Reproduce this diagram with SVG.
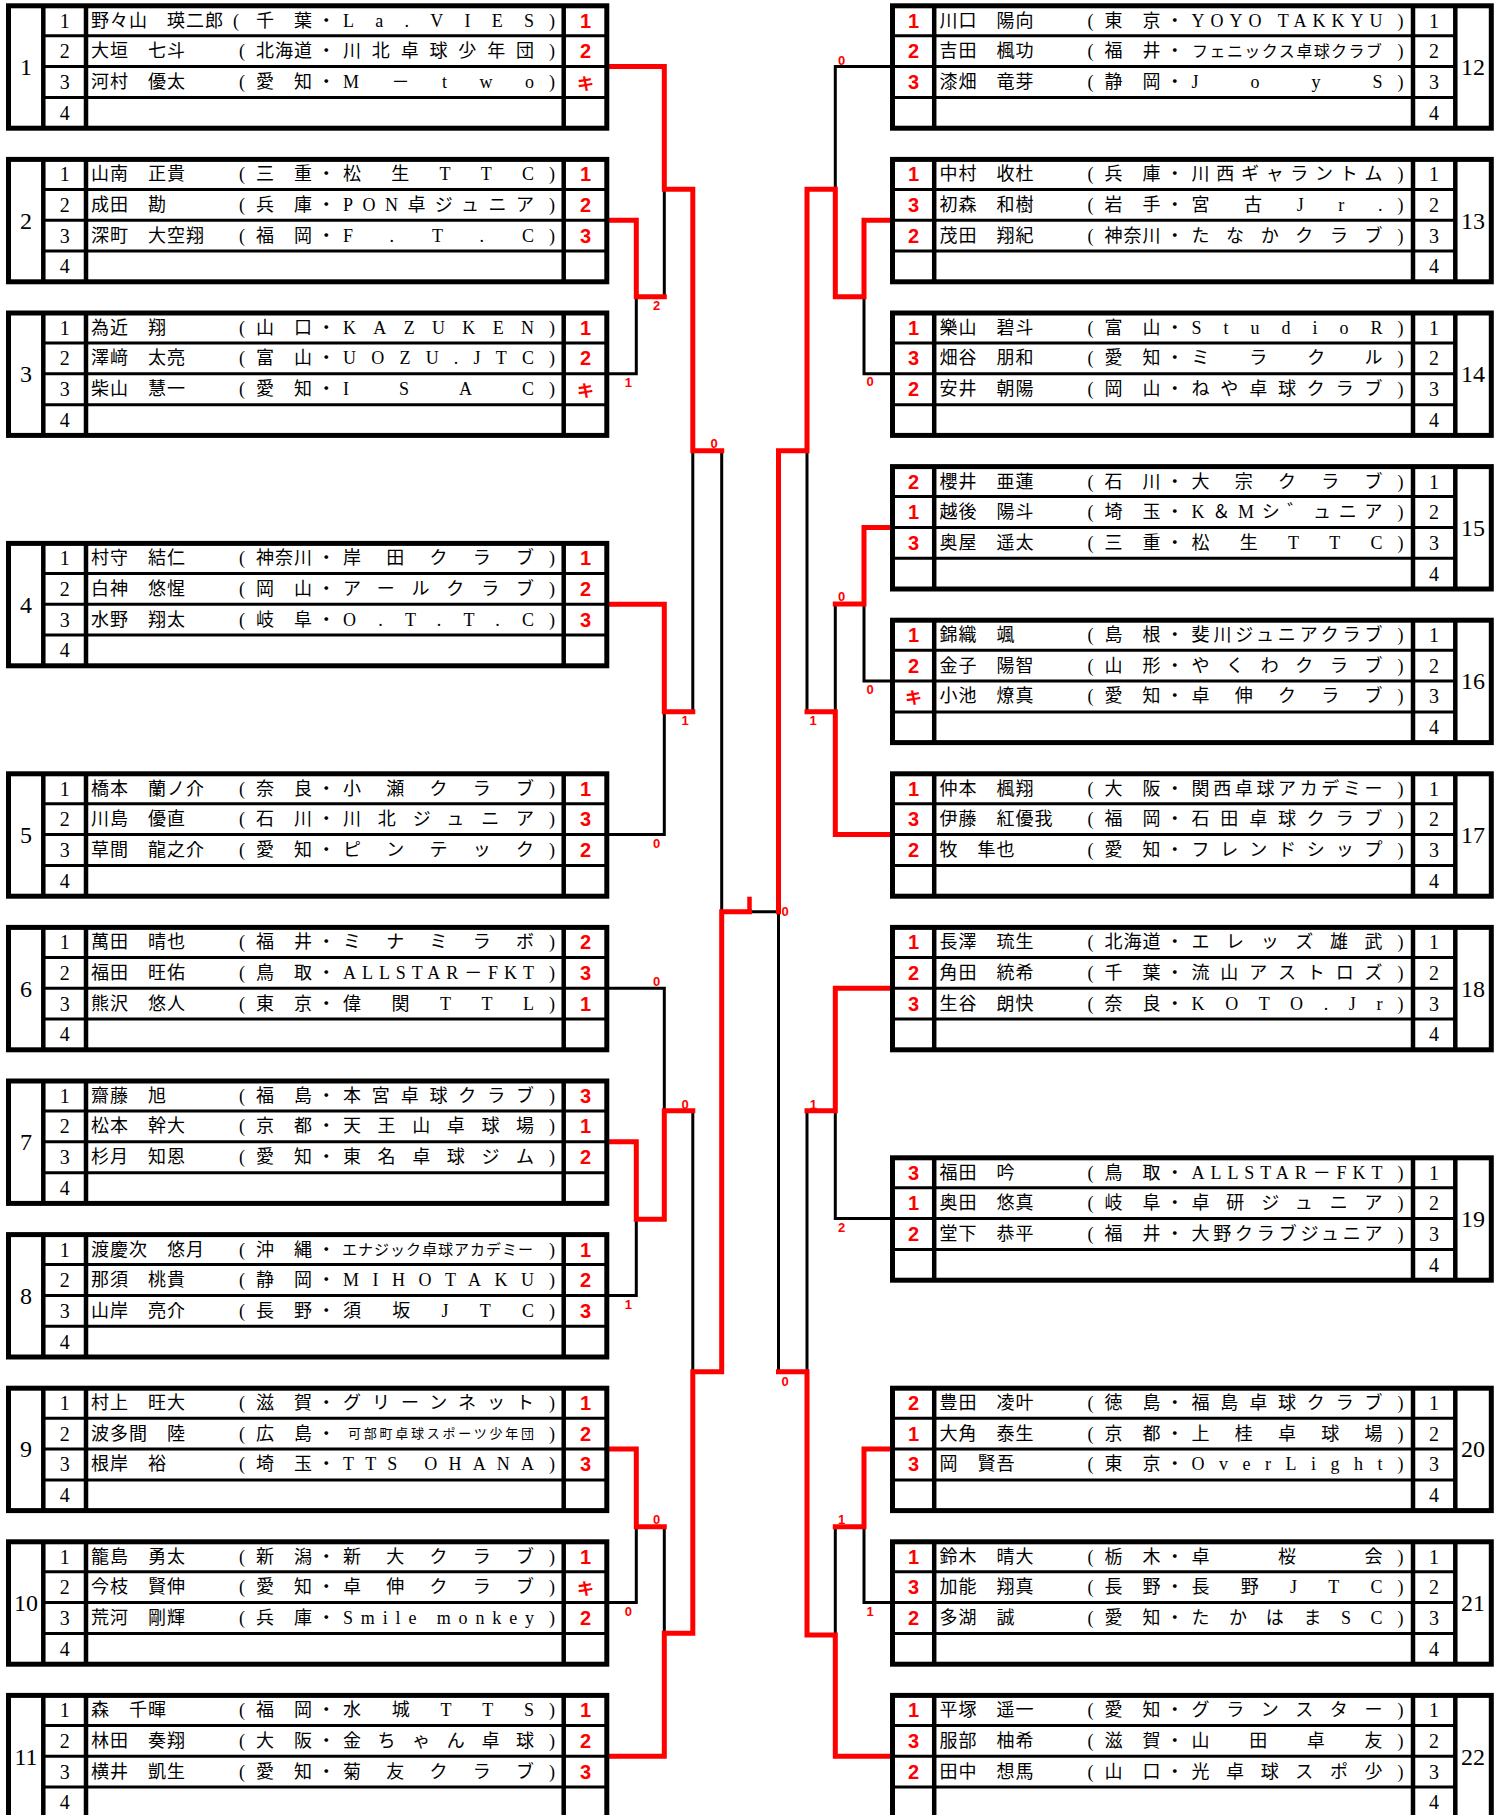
<svg xmlns="http://www.w3.org/2000/svg" width="1501" height="1815" viewBox="0 0 1501 1815">
<style>
.t{font-family:"Liberation Serif","Noto Sans CJK JP",serif;font-size:18px;dominant-baseline:central;fill:#000}
.nm{letter-spacing:1px}
.c15{font-size:15px}
.c13{font-size:13px}
.c16{font-size:16px}
.r{font-family:"Liberation Sans","Noto Sans CJK JP",sans-serif;font-weight:bold;font-size:20px;fill:#f00;text-anchor:middle;dominant-baseline:central}
.k{font-family:"Noto Sans CJK JP",sans-serif;font-size:17px}
.rn{font-family:"Liberation Serif",serif;font-size:20px;text-anchor:middle;dominant-baseline:central;fill:#000}
.gn{font-size:24px}
.lb{font-family:"Liberation Sans",sans-serif;font-weight:bold;font-size:13px;fill:#f00;text-anchor:middle;dominant-baseline:central}
.ob{fill:none;stroke:#000;stroke-width:5}
.iv{fill:none;stroke:#000;stroke-width:4.5}
.ih{fill:none;stroke:#000;stroke-width:3}
.rd{fill:none;stroke:#f00;stroke-width:5;stroke-linecap:square}
.bk{fill:none;stroke:#000;stroke-width:3;stroke-linecap:square}
</style>
<defs>
<g id="bL">
<rect class="ob" x="8.5" y="2.5" width="598.3" height="122.4"/>
<path class="iv" d="M43.3,2.5V124.9M86,2.5V124.9M563.7,2.5V124.9"/>
<path class="ih" d="M43.3,32.5H606.8M43.3,63.3H606.8M43.3,94.2H606.8"/>
</g>
<g id="bR">
<rect class="ob" x="892.5" y="2.5" width="598.8" height="122.4"/>
<path class="iv" d="M934.2,2.5V124.9M1413,2.5V124.9M1455.3,2.5V124.9"/>
<path class="ih" d="M892.5,32.5H1455.3M892.5,63.3H1455.3M892.5,94.2H1455.3"/>
</g>
</defs>
<rect x="0" y="0" width="1501" height="1815" fill="#fff"/>

<g id="connectors">
<path class="bk" d="M664.3,296.7V189.3M609,373.8H636.3V296.7M609,834.6H664.3V711.7M692.8,711.7V450.8M721.7,450.8V911.7M609,988.2H664.3V1110.7M609,1295.4H636.3V1219.3M692.8,1110.7V1371.7M609,1602.6H636.3V1526.7M664.3,1526.7V1633.3M751.7,911.7H778.5"/>
<path class="bk" d="M890,66.6H835.3V189.3M890,373.8H864V296.7M890,681H864V604M835.3,604V711.7M807,711.7V450.8M890,1218.6H835.3V1110.7M807,1110.7V1371.7M890,1602.6H864V1526.7M835.3,1526.7V1635M778.5,911.7V1371.7"/>
<path class="rd" d="M609,66.6H664.3V189.3H692.8V450.8H721.7"/>
<path class="rd" d="M609,220.2H636.3V296.7H664.3"/>
<path class="rd" d="M609,604.2H664.3V711.7H692.8"/>
<path class="rd" d="M609,1141.8H636.3V1219.3H664.3V1110.7H692.8"/>
<path class="rd" d="M609,1449H636.3V1526.7H664.3"/>
<path class="rd" d="M609,1756.2H664.3V1633.3H692.8V1371.7H721.7V911.7H749.5"/>
<path d="M749.5,896.7V913.5" stroke="#f00" stroke-width="4.5" fill="none"/>
<path class="rd" d="M890,220.2H864V296.7H835.3V189.3H807V450.8H778.5V911.7"/>
<path class="rd" d="M890,527.4H864V604H835.3"/>
<path class="rd" d="M890,834.6H835.3V711.7H807"/>
<path class="rd" d="M890,988.2H835.3V1110.7H807"/>
<path class="rd" d="M890,1449H864V1526.7H835.3"/>
<path class="rd" d="M890,1756.2H835.3V1635H807V1371.7H778.5"/>
<g id="scores">
<text class="lb" x="656.7" y="305">2</text>
<text class="lb" x="628.3" y="382.7">1</text>
<text class="lb" x="714" y="443.3">0</text>
<text class="lb" x="685" y="720">1</text>
<text class="lb" x="656.7" y="843.3">0</text>
<text class="lb" x="656.7" y="981.7">0</text>
<text class="lb" x="685" y="1104">0</text>
<text class="lb" x="628.3" y="1304">1</text>
<text class="lb" x="656.7" y="1519.3">0</text>
<text class="lb" x="628.3" y="1611.7">0</text>
<text class="lb" x="841.7" y="60">0</text>
<text class="lb" x="870" y="381.7">0</text>
<text class="lb" x="841.7" y="596.7">0</text>
<text class="lb" x="870" y="689.3">0</text>
<text class="lb" x="813" y="720">1</text>
<text class="lb" x="785" y="911">0</text>
<text class="lb" x="813.3" y="1104">1</text>
<text class="lb" x="841.7" y="1227.3">2</text>
<text class="lb" x="785" y="1381">0</text>
<text class="lb" x="841.7" y="1519.3">1</text>
<text class="lb" x="870" y="1611.7">1</text>
</g>
</g>

<g id="g1" transform="translate(0,3.3)">
<use href="#bL"/>
<text class="rn gn" x="26" y="63.7">1</text>
<text class="rn" x="64.7" y="17.5">1</text><text class="rn" x="64.7" y="47.9">2</text><text class="rn" x="64.7" y="78.75">3</text><text class="rn" x="64.7" y="109.55">4</text>
<text class="t" y="17.5"><tspan class="nm" x="91">野々山　瑛二郎</tspan><tspan x="233">(</tspan><tspan x="256 294">千葉</tspan><tspan x="317.3">・</tspan><tspan x="549">)</tspan></text>
<text class="t" x="343" y="17.5" textLength="191" lengthAdjust="spacing">La.VIES</text>
<text class="r" x="585.5" y="17.5">1</text>
<text class="t" y="47.9"><tspan class="nm" x="91">大垣　七斗</tspan><tspan x="239">(</tspan><tspan x="256 275 294">北海道</tspan><tspan x="317.3">・</tspan><tspan x="549">)</tspan></text>
<text class="t" x="343" y="47.9" textLength="191" lengthAdjust="spacing">川北卓球少年団</text>
<text class="r" x="585.5" y="47.9">2</text>
<text class="t" y="78.75"><tspan class="nm" x="91">河村　優太</tspan><tspan x="239">(</tspan><tspan x="256 294">愛知</tspan><tspan x="317.3">・</tspan><tspan x="549">)</tspan></text>
<text class="t" x="343" y="78.75" textLength="191" lengthAdjust="spacing">M－two</text>
<text class="r k" x="585.5" y="78.75">キ</text>
</g>

<g id="g2" transform="translate(0,156.9)">
<use href="#bL"/>
<text class="rn gn" x="26" y="63.7">2</text>
<text class="rn" x="64.7" y="17.5">1</text><text class="rn" x="64.7" y="47.9">2</text><text class="rn" x="64.7" y="78.75">3</text><text class="rn" x="64.7" y="109.55">4</text>
<text class="t" y="17.5"><tspan class="nm" x="91">山南　正貴</tspan><tspan x="239">(</tspan><tspan x="256 294">三重</tspan><tspan x="317.3">・</tspan><tspan x="549">)</tspan></text>
<text class="t" x="343" y="17.5" textLength="191" lengthAdjust="spacing">松生TTC</text>
<text class="r" x="585.5" y="17.5">1</text>
<text class="t" y="47.9"><tspan class="nm" x="91">成田　勘</tspan><tspan x="239">(</tspan><tspan x="256 294">兵庫</tspan><tspan x="317.3">・</tspan><tspan x="549">)</tspan></text>
<text class="t" x="343" y="47.9" textLength="191" lengthAdjust="spacing">PON卓ジュニア</text>
<text class="r" x="585.5" y="47.9">2</text>
<text class="t" y="78.75"><tspan class="nm" x="91">深町　大空翔</tspan><tspan x="239">(</tspan><tspan x="256 294">福岡</tspan><tspan x="317.3">・</tspan><tspan x="549">)</tspan></text>
<text class="t" x="343" y="78.75" textLength="191" lengthAdjust="spacing">F.T.C</text>
<text class="r" x="585.5" y="78.75">3</text>
</g>

<g id="g3" transform="translate(0,310.5)">
<use href="#bL"/>
<text class="rn gn" x="26" y="63.7">3</text>
<text class="rn" x="64.7" y="17.5">1</text><text class="rn" x="64.7" y="47.9">2</text><text class="rn" x="64.7" y="78.75">3</text><text class="rn" x="64.7" y="109.55">4</text>
<text class="t" y="17.5"><tspan class="nm" x="91">為近　翔</tspan><tspan x="239">(</tspan><tspan x="256 294">山口</tspan><tspan x="317.3">・</tspan><tspan x="549">)</tspan></text>
<text class="t" x="343" y="17.5" textLength="191" lengthAdjust="spacing">KAZUKEN</text>
<text class="r" x="585.5" y="17.5">1</text>
<text class="t" y="47.9"><tspan class="nm" x="91">澤﨑　太亮</tspan><tspan x="239">(</tspan><tspan x="256 294">富山</tspan><tspan x="317.3">・</tspan><tspan x="549">)</tspan></text>
<text class="t" x="343" y="47.9" textLength="191" lengthAdjust="spacing">UOZU.JTC</text>
<text class="r" x="585.5" y="47.9">2</text>
<text class="t" y="78.75"><tspan class="nm" x="91">柴山　慧一</tspan><tspan x="239">(</tspan><tspan x="256 294">愛知</tspan><tspan x="317.3">・</tspan><tspan x="549">)</tspan></text>
<text class="t" x="343" y="78.75" textLength="191" lengthAdjust="spacing">ISAC</text>
<text class="r k" x="585.5" y="78.75">キ</text>
</g>

<g id="g4" transform="translate(0,540.9)">
<use href="#bL"/>
<text class="rn gn" x="26" y="63.7">4</text>
<text class="rn" x="64.7" y="17.5">1</text><text class="rn" x="64.7" y="47.9">2</text><text class="rn" x="64.7" y="78.75">3</text><text class="rn" x="64.7" y="109.55">4</text>
<text class="t" y="17.5"><tspan class="nm" x="91">村守　結仁</tspan><tspan x="239">(</tspan><tspan x="256 275 294">神奈川</tspan><tspan x="317.3">・</tspan><tspan x="549">)</tspan></text>
<text class="t" x="343" y="17.5" textLength="191" lengthAdjust="spacing">岸田クラブ</text>
<text class="r" x="585.5" y="17.5">1</text>
<text class="t" y="47.9"><tspan class="nm" x="91">白神　悠惺</tspan><tspan x="239">(</tspan><tspan x="256 294">岡山</tspan><tspan x="317.3">・</tspan><tspan x="549">)</tspan></text>
<text class="t" x="343" y="47.9" textLength="191" lengthAdjust="spacing">アールクラブ</text>
<text class="r" x="585.5" y="47.9">2</text>
<text class="t" y="78.75"><tspan class="nm" x="91">水野　翔太</tspan><tspan x="239">(</tspan><tspan x="256 294">岐阜</tspan><tspan x="317.3">・</tspan><tspan x="549">)</tspan></text>
<text class="t" x="343" y="78.75" textLength="191" lengthAdjust="spacing">O.T.T.C</text>
<text class="r" x="585.5" y="78.75">3</text>
</g>

<g id="g5" transform="translate(0,771.3)">
<use href="#bL"/>
<text class="rn gn" x="26" y="63.7">5</text>
<text class="rn" x="64.7" y="17.5">1</text><text class="rn" x="64.7" y="47.9">2</text><text class="rn" x="64.7" y="78.75">3</text><text class="rn" x="64.7" y="109.55">4</text>
<text class="t" y="17.5"><tspan class="nm" x="91">橋本　蘭ノ介</tspan><tspan x="239">(</tspan><tspan x="256 294">奈良</tspan><tspan x="317.3">・</tspan><tspan x="549">)</tspan></text>
<text class="t" x="343" y="17.5" textLength="191" lengthAdjust="spacing">小瀬クラブ</text>
<text class="r" x="585.5" y="17.5">1</text>
<text class="t" y="47.9"><tspan class="nm" x="91">川島　優直</tspan><tspan x="239">(</tspan><tspan x="256 294">石川</tspan><tspan x="317.3">・</tspan><tspan x="549">)</tspan></text>
<text class="t" x="343" y="47.9" textLength="191" lengthAdjust="spacing">川北ジュニア</text>
<text class="r" x="585.5" y="47.9">3</text>
<text class="t" y="78.75"><tspan class="nm" x="91">草間　龍之介</tspan><tspan x="239">(</tspan><tspan x="256 294">愛知</tspan><tspan x="317.3">・</tspan><tspan x="549">)</tspan></text>
<text class="t" x="343" y="78.75" textLength="191" lengthAdjust="spacing">ピンテック</text>
<text class="r" x="585.5" y="78.75">2</text>
</g>

<g id="g6" transform="translate(0,924.9)">
<use href="#bL"/>
<text class="rn gn" x="26" y="63.7">6</text>
<text class="rn" x="64.7" y="17.5">1</text><text class="rn" x="64.7" y="47.9">2</text><text class="rn" x="64.7" y="78.75">3</text><text class="rn" x="64.7" y="109.55">4</text>
<text class="t" y="17.5"><tspan class="nm" x="91">萬田　晴也</tspan><tspan x="239">(</tspan><tspan x="256 294">福井</tspan><tspan x="317.3">・</tspan><tspan x="549">)</tspan></text>
<text class="t" x="343" y="17.5" textLength="191" lengthAdjust="spacing">ミナミラボ</text>
<text class="r" x="585.5" y="17.5">2</text>
<text class="t" y="47.9"><tspan class="nm" x="91">福田　旺佑</tspan><tspan x="239">(</tspan><tspan x="256 294">鳥取</tspan><tspan x="317.3">・</tspan><tspan x="549">)</tspan></text>
<text class="t" x="343" y="47.9" textLength="191" lengthAdjust="spacing">ALLSTAR－FKT</text>
<text class="r" x="585.5" y="47.9">3</text>
<text class="t" y="78.75"><tspan class="nm" x="91">熊沢　悠人</tspan><tspan x="239">(</tspan><tspan x="256 294">東京</tspan><tspan x="317.3">・</tspan><tspan x="549">)</tspan></text>
<text class="t" x="343" y="78.75" textLength="191" lengthAdjust="spacing">偉関TTL</text>
<text class="r" x="585.5" y="78.75">1</text>
</g>

<g id="g7" transform="translate(0,1078.5)">
<use href="#bL"/>
<text class="rn gn" x="26" y="63.7">7</text>
<text class="rn" x="64.7" y="17.5">1</text><text class="rn" x="64.7" y="47.9">2</text><text class="rn" x="64.7" y="78.75">3</text><text class="rn" x="64.7" y="109.55">4</text>
<text class="t" y="17.5"><tspan class="nm" x="91">齋藤　旭</tspan><tspan x="239">(</tspan><tspan x="256 294">福島</tspan><tspan x="317.3">・</tspan><tspan x="549">)</tspan></text>
<text class="t" x="343" y="17.5" textLength="191" lengthAdjust="spacing">本宮卓球クラブ</text>
<text class="r" x="585.5" y="17.5">3</text>
<text class="t" y="47.9"><tspan class="nm" x="91">松本　幹大</tspan><tspan x="239">(</tspan><tspan x="256 294">京都</tspan><tspan x="317.3">・</tspan><tspan x="549">)</tspan></text>
<text class="t" x="343" y="47.9" textLength="191" lengthAdjust="spacing">天王山卓球場</text>
<text class="r" x="585.5" y="47.9">1</text>
<text class="t" y="78.75"><tspan class="nm" x="91">杉月　知恩</tspan><tspan x="239">(</tspan><tspan x="256 294">愛知</tspan><tspan x="317.3">・</tspan><tspan x="549">)</tspan></text>
<text class="t" x="343" y="78.75" textLength="191" lengthAdjust="spacing">東名卓球ジム</text>
<text class="r" x="585.5" y="78.75">2</text>
</g>

<g id="g8" transform="translate(0,1232.1)">
<use href="#bL"/>
<text class="rn gn" x="26" y="63.7">8</text>
<text class="rn" x="64.7" y="17.5">1</text><text class="rn" x="64.7" y="47.9">2</text><text class="rn" x="64.7" y="78.75">3</text><text class="rn" x="64.7" y="109.55">4</text>
<text class="t" y="17.5"><tspan class="nm" x="91">渡慶次　悠月</tspan><tspan x="239">(</tspan><tspan x="256 294">沖縄</tspan><tspan x="317.3">・</tspan><tspan x="549">)</tspan></text>
<text class="t c15" x="342" y="17.5" textLength="191" lengthAdjust="spacing">エナジック卓球アカデミー</text>
<text class="r" x="585.5" y="17.5">1</text>
<text class="t" y="47.9"><tspan class="nm" x="91">那須　桃貴</tspan><tspan x="239">(</tspan><tspan x="256 294">静岡</tspan><tspan x="317.3">・</tspan><tspan x="549">)</tspan></text>
<text class="t" x="343" y="47.9" textLength="191" lengthAdjust="spacing">MIHOTAKU</text>
<text class="r" x="585.5" y="47.9">2</text>
<text class="t" y="78.75"><tspan class="nm" x="91">山岸　亮介</tspan><tspan x="239">(</tspan><tspan x="256 294">長野</tspan><tspan x="317.3">・</tspan><tspan x="549">)</tspan></text>
<text class="t" x="343" y="78.75" textLength="191" lengthAdjust="spacing">須坂JTC</text>
<text class="r" x="585.5" y="78.75">3</text>
</g>

<g id="g9" transform="translate(0,1385.7)">
<use href="#bL"/>
<text class="rn gn" x="26" y="63.7">9</text>
<text class="rn" x="64.7" y="17.5">1</text><text class="rn" x="64.7" y="47.9">2</text><text class="rn" x="64.7" y="78.75">3</text><text class="rn" x="64.7" y="109.55">4</text>
<text class="t" y="17.5"><tspan class="nm" x="91">村上　旺大</tspan><tspan x="239">(</tspan><tspan x="256 294">滋賀</tspan><tspan x="317.3">・</tspan><tspan x="549">)</tspan></text>
<text class="t" x="343" y="17.5" textLength="191" lengthAdjust="spacing">グリーンネット</text>
<text class="r" x="585.5" y="17.5">1</text>
<text class="t" y="47.9"><tspan class="nm" x="91">波多間　陸</tspan><tspan x="239">(</tspan><tspan x="256 294">広島</tspan><tspan x="317.3">・</tspan><tspan x="549">)</tspan></text>
<text class="t c13" x="348" y="47.9" textLength="186" lengthAdjust="spacing">可部町卓球スポーツ少年団</text>
<text class="r" x="585.5" y="47.9">2</text>
<text class="t" y="78.75"><tspan class="nm" x="91">根岸　裕</tspan><tspan x="239">(</tspan><tspan x="256 294">埼玉</tspan><tspan x="317.3">・</tspan><tspan x="549">)</tspan></text>
<text class="t" x="343" y="78.75" textLength="191" lengthAdjust="spacing">TTS OHANA</text>
<text class="r" x="585.5" y="78.75">3</text>
</g>

<g id="g10" transform="translate(0,1539.3)">
<use href="#bL"/>
<text class="rn gn" x="26" y="63.7">10</text>
<text class="rn" x="64.7" y="17.5">1</text><text class="rn" x="64.7" y="47.9">2</text><text class="rn" x="64.7" y="78.75">3</text><text class="rn" x="64.7" y="109.55">4</text>
<text class="t" y="17.5"><tspan class="nm" x="91">籠島　勇太</tspan><tspan x="239">(</tspan><tspan x="256 294">新潟</tspan><tspan x="317.3">・</tspan><tspan x="549">)</tspan></text>
<text class="t" x="343" y="17.5" textLength="191" lengthAdjust="spacing">新大クラブ</text>
<text class="r" x="585.5" y="17.5">1</text>
<text class="t" y="47.9"><tspan class="nm" x="91">今枝　賢伸</tspan><tspan x="239">(</tspan><tspan x="256 294">愛知</tspan><tspan x="317.3">・</tspan><tspan x="549">)</tspan></text>
<text class="t" x="343" y="47.9" textLength="191" lengthAdjust="spacing">卓伸クラブ</text>
<text class="r k" x="585.5" y="47.9">キ</text>
<text class="t" y="78.75"><tspan class="nm" x="91">荒河　剛輝</tspan><tspan x="239">(</tspan><tspan x="256 294">兵庫</tspan><tspan x="317.3">・</tspan><tspan x="549">)</tspan></text>
<text class="t" x="343" y="78.75" textLength="191" lengthAdjust="spacing">Smile monkey</text>
<text class="r" x="585.5" y="78.75">2</text>
</g>

<g id="g11" transform="translate(0,1692.9)">
<use href="#bL"/>
<text class="rn gn" x="26" y="63.7">11</text>
<text class="rn" x="64.7" y="17.5">1</text><text class="rn" x="64.7" y="47.9">2</text><text class="rn" x="64.7" y="78.75">3</text><text class="rn" x="64.7" y="109.55">4</text>
<text class="t" y="17.5"><tspan class="nm" x="91">森　千暉</tspan><tspan x="239">(</tspan><tspan x="256 294">福岡</tspan><tspan x="317.3">・</tspan><tspan x="549">)</tspan></text>
<text class="t" x="343" y="17.5" textLength="191" lengthAdjust="spacing">水城TTS</text>
<text class="r" x="585.5" y="17.5">1</text>
<text class="t" y="47.9"><tspan class="nm" x="91">林田　奏翔</tspan><tspan x="239">(</tspan><tspan x="256 294">大阪</tspan><tspan x="317.3">・</tspan><tspan x="549">)</tspan></text>
<text class="t" x="343" y="47.9" textLength="191" lengthAdjust="spacing">金ちゃん卓球</text>
<text class="r" x="585.5" y="47.9">2</text>
<text class="t" y="78.75"><tspan class="nm" x="91">横井　凱生</tspan><tspan x="239">(</tspan><tspan x="256 294">愛知</tspan><tspan x="317.3">・</tspan><tspan x="549">)</tspan></text>
<text class="t" x="343" y="78.75" textLength="191" lengthAdjust="spacing">菊友クラブ</text>
<text class="r" x="585.5" y="78.75">3</text>
</g>

<g id="g12" transform="translate(0,3.3)">
<use href="#bR"/>
<text class="rn gn" x="1473" y="63.7">12</text>
<text class="rn" x="1434" y="17.5">1</text><text class="rn" x="1434" y="47.9">2</text><text class="rn" x="1434" y="78.75">3</text><text class="rn" x="1434" y="109.55">4</text>
<text class="r" x="913.5" y="17.5">1</text>
<text class="t" y="17.5"><tspan class="nm" x="939.5">川口　陽向</tspan><tspan x="1087.5">(</tspan><tspan x="1104.5 1142.5">東京</tspan><tspan x="1165.8">・</tspan><tspan x="1397.5">)</tspan></text>
<text class="t" x="1191.5" y="17.5" textLength="191" lengthAdjust="spacing">YOYO TAKKYU</text>
<text class="r" x="913.5" y="47.9">2</text>
<text class="t" y="47.9"><tspan class="nm" x="939.5">吉田　楓功</tspan><tspan x="1087.5">(</tspan><tspan x="1104.5 1142.5">福井</tspan><tspan x="1165.8">・</tspan><tspan x="1397.5">)</tspan></text>
<text class="t c16" x="1192" y="47.9" textLength="190" lengthAdjust="spacing">フェニックス卓球クラブ</text>
<text class="r" x="913.5" y="78.75">3</text>
<text class="t" y="78.75"><tspan class="nm" x="939.5">漆畑　竜芽</tspan><tspan x="1087.5">(</tspan><tspan x="1104.5 1142.5">静岡</tspan><tspan x="1165.8">・</tspan><tspan x="1397.5">)</tspan></text>
<text class="t" x="1191.5" y="78.75" textLength="191" lengthAdjust="spacing">JoyS</text>
</g>

<g id="g13" transform="translate(0,156.9)">
<use href="#bR"/>
<text class="rn gn" x="1473" y="63.7">13</text>
<text class="rn" x="1434" y="17.5">1</text><text class="rn" x="1434" y="47.9">2</text><text class="rn" x="1434" y="78.75">3</text><text class="rn" x="1434" y="109.55">4</text>
<text class="r" x="913.5" y="17.5">1</text>
<text class="t" y="17.5"><tspan class="nm" x="939.5">中村　收杜</tspan><tspan x="1087.5">(</tspan><tspan x="1104.5 1142.5">兵庫</tspan><tspan x="1165.8">・</tspan><tspan x="1397.5">)</tspan></text>
<text class="t" x="1191.5" y="17.5" textLength="191" lengthAdjust="spacing">川西ギャラントム</text>
<text class="r" x="913.5" y="47.9">3</text>
<text class="t" y="47.9"><tspan class="nm" x="939.5">初森　和樹</tspan><tspan x="1087.5">(</tspan><tspan x="1104.5 1142.5">岩手</tspan><tspan x="1165.8">・</tspan><tspan x="1397.5">)</tspan></text>
<text class="t" x="1191.5" y="47.9" textLength="191" lengthAdjust="spacing">宮古Jr.</text>
<text class="r" x="913.5" y="78.75">2</text>
<text class="t" y="78.75"><tspan class="nm" x="939.5">茂田　翔紀</tspan><tspan x="1087.5">(</tspan><tspan x="1104.5 1123.5 1142.5">神奈川</tspan><tspan x="1165.8">・</tspan><tspan x="1397.5">)</tspan></text>
<text class="t" x="1191.5" y="78.75" textLength="191" lengthAdjust="spacing">たなかクラブ</text>
</g>

<g id="g14" transform="translate(0,310.5)">
<use href="#bR"/>
<text class="rn gn" x="1473" y="63.7">14</text>
<text class="rn" x="1434" y="17.5">1</text><text class="rn" x="1434" y="47.9">2</text><text class="rn" x="1434" y="78.75">3</text><text class="rn" x="1434" y="109.55">4</text>
<text class="r" x="913.5" y="17.5">1</text>
<text class="t" y="17.5"><tspan class="nm" x="939.5">樂山　碧斗</tspan><tspan x="1087.5">(</tspan><tspan x="1104.5 1142.5">富山</tspan><tspan x="1165.8">・</tspan><tspan x="1397.5">)</tspan></text>
<text class="t" x="1191.5" y="17.5" textLength="191" lengthAdjust="spacing">StudioR</text>
<text class="r" x="913.5" y="47.9">3</text>
<text class="t" y="47.9"><tspan class="nm" x="939.5">畑谷　朋和</tspan><tspan x="1087.5">(</tspan><tspan x="1104.5 1142.5">愛知</tspan><tspan x="1165.8">・</tspan><tspan x="1397.5">)</tspan></text>
<text class="t" x="1191.5" y="47.9" textLength="191" lengthAdjust="spacing">ミラクル</text>
<text class="r" x="913.5" y="78.75">2</text>
<text class="t" y="78.75"><tspan class="nm" x="939.5">安井　朝陽</tspan><tspan x="1087.5">(</tspan><tspan x="1104.5 1142.5">岡山</tspan><tspan x="1165.8">・</tspan><tspan x="1397.5">)</tspan></text>
<text class="t" x="1191.5" y="78.75" textLength="191" lengthAdjust="spacing">ねや卓球クラブ</text>
</g>

<g id="g15" transform="translate(0,464.1)">
<use href="#bR"/>
<text class="rn gn" x="1473" y="63.7">15</text>
<text class="rn" x="1434" y="17.5">1</text><text class="rn" x="1434" y="47.9">2</text><text class="rn" x="1434" y="78.75">3</text><text class="rn" x="1434" y="109.55">4</text>
<text class="r" x="913.5" y="17.5">2</text>
<text class="t" y="17.5"><tspan class="nm" x="939.5">櫻井　亜蓮</tspan><tspan x="1087.5">(</tspan><tspan x="1104.5 1142.5">石川</tspan><tspan x="1165.8">・</tspan><tspan x="1397.5">)</tspan></text>
<text class="t" x="1191.5" y="17.5" textLength="191" lengthAdjust="spacing">大宗クラブ</text>
<text class="r" x="913.5" y="47.9">1</text>
<text class="t" y="47.9"><tspan class="nm" x="939.5">越後　陽斗</tspan><tspan x="1087.5">(</tspan><tspan x="1104.5 1142.5">埼玉</tspan><tspan x="1165.8">・</tspan><tspan x="1397.5">)</tspan></text>
<text class="t" x="1191.5" y="47.9" textLength="191" lengthAdjust="spacing">K＆Mシ゛ュニア</text>
<text class="r" x="913.5" y="78.75">3</text>
<text class="t" y="78.75"><tspan class="nm" x="939.5">奥屋　遥太</tspan><tspan x="1087.5">(</tspan><tspan x="1104.5 1142.5">三重</tspan><tspan x="1165.8">・</tspan><tspan x="1397.5">)</tspan></text>
<text class="t" x="1191.5" y="78.75" textLength="191" lengthAdjust="spacing">松生TTC</text>
</g>

<g id="g16" transform="translate(0,617.7)">
<use href="#bR"/>
<text class="rn gn" x="1473" y="63.7">16</text>
<text class="rn" x="1434" y="17.5">1</text><text class="rn" x="1434" y="47.9">2</text><text class="rn" x="1434" y="78.75">3</text><text class="rn" x="1434" y="109.55">4</text>
<text class="r" x="913.5" y="17.5">1</text>
<text class="t" y="17.5"><tspan class="nm" x="939.5">錦織　颯</tspan><tspan x="1087.5">(</tspan><tspan x="1104.5 1142.5">島根</tspan><tspan x="1165.8">・</tspan><tspan x="1397.5">)</tspan></text>
<text class="t" x="1191.5" y="17.5" textLength="191" lengthAdjust="spacing">斐川ジュニアクラブ</text>
<text class="r" x="913.5" y="47.9">2</text>
<text class="t" y="47.9"><tspan class="nm" x="939.5">金子　陽智</tspan><tspan x="1087.5">(</tspan><tspan x="1104.5 1142.5">山形</tspan><tspan x="1165.8">・</tspan><tspan x="1397.5">)</tspan></text>
<text class="t" x="1191.5" y="47.9" textLength="191" lengthAdjust="spacing">やくわクラブ</text>
<text class="r k" x="913.5" y="78.75">キ</text>
<text class="t" y="78.75"><tspan class="nm" x="939.5">小池　燎真</tspan><tspan x="1087.5">(</tspan><tspan x="1104.5 1142.5">愛知</tspan><tspan x="1165.8">・</tspan><tspan x="1397.5">)</tspan></text>
<text class="t" x="1191.5" y="78.75" textLength="191" lengthAdjust="spacing">卓伸クラブ</text>
</g>

<g id="g17" transform="translate(0,771.3)">
<use href="#bR"/>
<text class="rn gn" x="1473" y="63.7">17</text>
<text class="rn" x="1434" y="17.5">1</text><text class="rn" x="1434" y="47.9">2</text><text class="rn" x="1434" y="78.75">3</text><text class="rn" x="1434" y="109.55">4</text>
<text class="r" x="913.5" y="17.5">1</text>
<text class="t" y="17.5"><tspan class="nm" x="939.5">仲本　楓翔</tspan><tspan x="1087.5">(</tspan><tspan x="1104.5 1142.5">大阪</tspan><tspan x="1165.8">・</tspan><tspan x="1397.5">)</tspan></text>
<text class="t" x="1191.5" y="17.5" textLength="191" lengthAdjust="spacing">関西卓球アカデミー</text>
<text class="r" x="913.5" y="47.9">3</text>
<text class="t" y="47.9"><tspan class="nm" x="939.5">伊藤　紅優我</tspan><tspan x="1087.5">(</tspan><tspan x="1104.5 1142.5">福岡</tspan><tspan x="1165.8">・</tspan><tspan x="1397.5">)</tspan></text>
<text class="t" x="1191.5" y="47.9" textLength="191" lengthAdjust="spacing">石田卓球クラブ</text>
<text class="r" x="913.5" y="78.75">2</text>
<text class="t" y="78.75"><tspan class="nm" x="939.5">牧　隼也</tspan><tspan x="1087.5">(</tspan><tspan x="1104.5 1142.5">愛知</tspan><tspan x="1165.8">・</tspan><tspan x="1397.5">)</tspan></text>
<text class="t" x="1191.5" y="78.75" textLength="191" lengthAdjust="spacing">フレンドシップ</text>
</g>

<g id="g18" transform="translate(0,924.9)">
<use href="#bR"/>
<text class="rn gn" x="1473" y="63.7">18</text>
<text class="rn" x="1434" y="17.5">1</text><text class="rn" x="1434" y="47.9">2</text><text class="rn" x="1434" y="78.75">3</text><text class="rn" x="1434" y="109.55">4</text>
<text class="r" x="913.5" y="17.5">1</text>
<text class="t" y="17.5"><tspan class="nm" x="939.5">長澤　琉生</tspan><tspan x="1087.5">(</tspan><tspan x="1104.5 1123.5 1142.5">北海道</tspan><tspan x="1165.8">・</tspan><tspan x="1397.5">)</tspan></text>
<text class="t" x="1191.5" y="17.5" textLength="191" lengthAdjust="spacing">エレッズ雄武</text>
<text class="r" x="913.5" y="47.9">2</text>
<text class="t" y="47.9"><tspan class="nm" x="939.5">角田　統希</tspan><tspan x="1087.5">(</tspan><tspan x="1104.5 1142.5">千葉</tspan><tspan x="1165.8">・</tspan><tspan x="1397.5">)</tspan></text>
<text class="t" x="1191.5" y="47.9" textLength="191" lengthAdjust="spacing">流山アストロズ</text>
<text class="r" x="913.5" y="78.75">3</text>
<text class="t" y="78.75"><tspan class="nm" x="939.5">生谷　朗快</tspan><tspan x="1087.5">(</tspan><tspan x="1104.5 1142.5">奈良</tspan><tspan x="1165.8">・</tspan><tspan x="1397.5">)</tspan></text>
<text class="t" x="1191.5" y="78.75" textLength="191" lengthAdjust="spacing">KOTO.Jr</text>
</g>

<g id="g19" transform="translate(0,1155.3)">
<use href="#bR"/>
<text class="rn gn" x="1473" y="63.7">19</text>
<text class="rn" x="1434" y="17.5">1</text><text class="rn" x="1434" y="47.9">2</text><text class="rn" x="1434" y="78.75">3</text><text class="rn" x="1434" y="109.55">4</text>
<text class="r" x="913.5" y="17.5">3</text>
<text class="t" y="17.5"><tspan class="nm" x="939.5">福田　吟</tspan><tspan x="1087.5">(</tspan><tspan x="1104.5 1142.5">鳥取</tspan><tspan x="1165.8">・</tspan><tspan x="1397.5">)</tspan></text>
<text class="t" x="1191.5" y="17.5" textLength="191" lengthAdjust="spacing">ALLSTAR－FKT</text>
<text class="r" x="913.5" y="47.9">1</text>
<text class="t" y="47.9"><tspan class="nm" x="939.5">奥田　悠真</tspan><tspan x="1087.5">(</tspan><tspan x="1104.5 1142.5">岐阜</tspan><tspan x="1165.8">・</tspan><tspan x="1397.5">)</tspan></text>
<text class="t" x="1191.5" y="47.9" textLength="191" lengthAdjust="spacing">卓研ジュニア</text>
<text class="r" x="913.5" y="78.75">2</text>
<text class="t" y="78.75"><tspan class="nm" x="939.5">堂下　恭平</tspan><tspan x="1087.5">(</tspan><tspan x="1104.5 1142.5">福井</tspan><tspan x="1165.8">・</tspan><tspan x="1397.5">)</tspan></text>
<text class="t" x="1191.5" y="78.75" textLength="191" lengthAdjust="spacing">大野クラブジュニア</text>
</g>

<g id="g20" transform="translate(0,1385.7)">
<use href="#bR"/>
<text class="rn gn" x="1473" y="63.7">20</text>
<text class="rn" x="1434" y="17.5">1</text><text class="rn" x="1434" y="47.9">2</text><text class="rn" x="1434" y="78.75">3</text><text class="rn" x="1434" y="109.55">4</text>
<text class="r" x="913.5" y="17.5">2</text>
<text class="t" y="17.5"><tspan class="nm" x="939.5">豊田　凌叶</tspan><tspan x="1087.5">(</tspan><tspan x="1104.5 1142.5">徳島</tspan><tspan x="1165.8">・</tspan><tspan x="1397.5">)</tspan></text>
<text class="t" x="1191.5" y="17.5" textLength="191" lengthAdjust="spacing">福島卓球クラブ</text>
<text class="r" x="913.5" y="47.9">1</text>
<text class="t" y="47.9"><tspan class="nm" x="939.5">大角　泰生</tspan><tspan x="1087.5">(</tspan><tspan x="1104.5 1142.5">京都</tspan><tspan x="1165.8">・</tspan><tspan x="1397.5">)</tspan></text>
<text class="t" x="1191.5" y="47.9" textLength="191" lengthAdjust="spacing">上桂卓球場</text>
<text class="r" x="913.5" y="78.75">3</text>
<text class="t" y="78.75"><tspan class="nm" x="939.5">岡　賢吾</tspan><tspan x="1087.5">(</tspan><tspan x="1104.5 1142.5">東京</tspan><tspan x="1165.8">・</tspan><tspan x="1397.5">)</tspan></text>
<text class="t" x="1191.5" y="78.75" textLength="191" lengthAdjust="spacing">OverLight</text>
</g>

<g id="g21" transform="translate(0,1539.3)">
<use href="#bR"/>
<text class="rn gn" x="1473" y="63.7">21</text>
<text class="rn" x="1434" y="17.5">1</text><text class="rn" x="1434" y="47.9">2</text><text class="rn" x="1434" y="78.75">3</text><text class="rn" x="1434" y="109.55">4</text>
<text class="r" x="913.5" y="17.5">1</text>
<text class="t" y="17.5"><tspan class="nm" x="939.5">鈴木　晴大</tspan><tspan x="1087.5">(</tspan><tspan x="1104.5 1142.5">栃木</tspan><tspan x="1165.8">・</tspan><tspan x="1397.5">)</tspan></text>
<text class="t" x="1191.5" y="17.5" textLength="191" lengthAdjust="spacing">卓桜会</text>
<text class="r" x="913.5" y="47.9">3</text>
<text class="t" y="47.9"><tspan class="nm" x="939.5">加能　翔真</tspan><tspan x="1087.5">(</tspan><tspan x="1104.5 1142.5">長野</tspan><tspan x="1165.8">・</tspan><tspan x="1397.5">)</tspan></text>
<text class="t" x="1191.5" y="47.9" textLength="191" lengthAdjust="spacing">長野JTC</text>
<text class="r" x="913.5" y="78.75">2</text>
<text class="t" y="78.75"><tspan class="nm" x="939.5">多湖　誠</tspan><tspan x="1087.5">(</tspan><tspan x="1104.5 1142.5">愛知</tspan><tspan x="1165.8">・</tspan><tspan x="1397.5">)</tspan></text>
<text class="t" x="1191.5" y="78.75" textLength="191" lengthAdjust="spacing">たかはまSC</text>
</g>

<g id="g22" transform="translate(0,1692.9)">
<use href="#bR"/>
<text class="rn gn" x="1473" y="63.7">22</text>
<text class="rn" x="1434" y="17.5">1</text><text class="rn" x="1434" y="47.9">2</text><text class="rn" x="1434" y="78.75">3</text><text class="rn" x="1434" y="109.55">4</text>
<text class="r" x="913.5" y="17.5">1</text>
<text class="t" y="17.5"><tspan class="nm" x="939.5">平塚　遥一</tspan><tspan x="1087.5">(</tspan><tspan x="1104.5 1142.5">愛知</tspan><tspan x="1165.8">・</tspan><tspan x="1397.5">)</tspan></text>
<text class="t" x="1191.5" y="17.5" textLength="191" lengthAdjust="spacing">グランスター</text>
<text class="r" x="913.5" y="47.9">3</text>
<text class="t" y="47.9"><tspan class="nm" x="939.5">服部　柚希</tspan><tspan x="1087.5">(</tspan><tspan x="1104.5 1142.5">滋賀</tspan><tspan x="1165.8">・</tspan><tspan x="1397.5">)</tspan></text>
<text class="t" x="1191.5" y="47.9" textLength="191" lengthAdjust="spacing">山田卓友</text>
<text class="r" x="913.5" y="78.75">2</text>
<text class="t" y="78.75"><tspan class="nm" x="939.5">田中　想馬</tspan><tspan x="1087.5">(</tspan><tspan x="1104.5 1142.5">山口</tspan><tspan x="1165.8">・</tspan><tspan x="1397.5">)</tspan></text>
<text class="t" x="1191.5" y="78.75" textLength="191" lengthAdjust="spacing">光卓球スポ少</text>
</g>
</svg>
